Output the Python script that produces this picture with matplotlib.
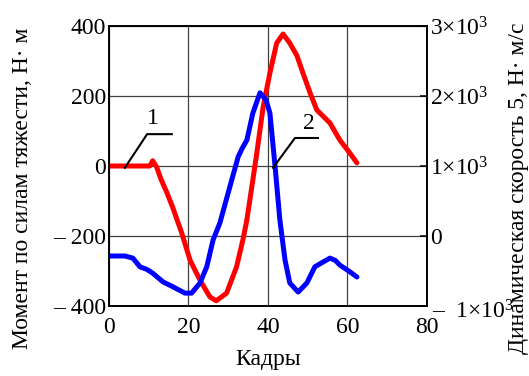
import numpy as np
from matplotlib import pyplot as plt

plt.rcParams['font.family'] = ['Liberation Serif', 'DejaVu Serif']
plt.rcParams['mathtext.fontset'] = 'custom'
plt.rcParams['mathtext.rm'] = 'Liberation Serif'
plt.rcParams['mathtext.default'] = 'rm'

# кривая 1 - момент по силам тяжести (левая ось)
x_moment = [0, 4, 8, 10.3, 11, 12, 13, 14.6, 16, 18.3, 20.4, 22.9, 25.4, 27, 29.6, 32.1, 33.7,
            34.7, 36.2, 37.2, 38.8, 40.5, 42.2, 43.8, 45.5, 47.3, 48.8, 50.6, 52.3, 55.6, 58.1, 60.6, 62.4]
y_moment = [0, 0, 0, 0, 15, -3, -35, -77, -117, -191, -269, -326, -374, -385, -363, -288, -211,
            -154, -40, 37, 169, 266, 351, 377, 351, 315, 266, 209, 160, 123, 74, 37, 9]

# кривая 2 - динамическая скорость (правая ось)
x_speed = [0, 2.5, 4, 6, 7.8, 9.5, 11, 13.6, 16.1, 19.1, 20.8, 22.9, 24.6, 26.2, 27.9, 30.4, 32.5,
           33.5, 34.7, 36.2, 38, 39.5, 40.5, 41.8, 43, 44.3, 45.5, 47.6, 49.8, 51.8, 53.9, 55.6, 57, 58.1, 60.6, 62.4]
y_speed = [-285, -285, -285, -315, -440, -475, -530, -655, -725, -815, -815, -670, -440, -55, 185, 700, 1130,
           1250, 1370, 1755, 2045, 1945, 1755, 990, 230, -345, -670, -800, -670, -440, -370, -315, -350, -415, -510, -585]

x_ticks = [0, 20, 40, 60, 80]
left_ticks = [-400, -200, 0, 200, 400]
left_labels = ['– 400', '– 200', '0', '200', '400']
right_ticks = [-1000, 0, 1000, 2000, 3000]
right_labels = ['', '0', '1×10$^{3}$', '2×10$^{3}$', '3×10$^{3}$']
right_bottom_label = '–  1×10$^{3}$'

fs = 17

fig = plt.figure(figsize=(5.29, 3.76), dpi=100)
ax = fig.add_axes([0.206, 0.186, 0.601, 0.745])
ax2 = ax.twinx()

ax.plot(x_moment, y_moment, color='#ff0000', lw=3.6, solid_capstyle='round', solid_joinstyle='round')
ax2.plot(x_speed, y_speed, color='#0000ff', lw=3.6, solid_capstyle='round', solid_joinstyle='round')

ax.set_xlim(0, 80)
ax.set_ylim(-400, 400)
ax2.set_ylim(-1000, 3000)

ax.set_xticks(x_ticks)
ax.set_yticks(left_ticks)
ax.set_yticklabels(left_labels)
ax2.set_yticks(right_ticks)
ax2.set_yticklabels(right_labels)
# нижняя подпись справа чуть ниже, как в оригинале
ax2.text(1.016, -0.02, right_bottom_label, fontsize=fs, ha='left', va='center', transform=ax2.transAxes)

ax.grid(True, color='#404040', lw=0.9)
ax.tick_params(axis='y', length=0, labelsize=fs, pad=2)
ax.tick_params(axis='x', length=0, labelsize=fs, pad=8)
ax2.tick_params(axis='y', direction='in', length=5, width=1.1, labelsize=fs, pad=2)
for a in (ax, ax2):
    for s in a.spines.values():
        s.set_linewidth(1.2)

ax.set_xlabel('Кадры', fontsize=fs)
ax.xaxis.set_label_coords(0.5, -0.155)
ax.set_ylabel('Момент по силам тяжести, Н· м', fontsize=fs)
ax.yaxis.set_label_coords(-0.238, 0.42)
ax2.set_ylabel('Динамическая скорость 5, Н· м/с', fontsize=fs)
ax2.yaxis.set_label_coords(1.256, 0.42)

# выноски 1 и 2
ax2.plot([4.0, 9.6, 15.8], [-5, 91, 91], color='k', lw=1.5, transform=ax.transData, zorder=5)
ax2.text(11.1, 135, '1', fontsize=fs, ha='center', va='center', transform=ax.transData)
ax2.plot([41.3, 46.8, 52.6], [-5, 80, 80], color='k', lw=1.5, transform=ax.transData, zorder=5)
ax2.text(50.4, 122, '2', fontsize=fs, ha='center', va='center', transform=ax.transData)

plt.savefig('out.png', dpi=100)
